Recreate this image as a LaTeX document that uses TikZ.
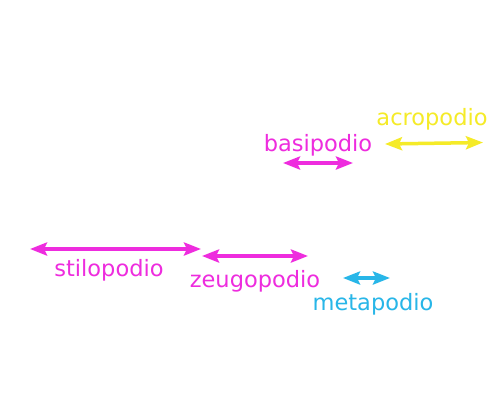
\documentclass[tikz,border=0pt]{standalone}
\usepackage{fontspec}
\setmainfont{DejaVu Sans}
\usetikzlibrary{arrows.meta}
\definecolor{mag}{RGB}{238,44,222}
\definecolor{yel}{RGB}{245,235,40}
\definecolor{cya}{RGB}{40,182,232}
\tikzset{
  dbl/.style={line width=3.5pt,{Stealth[length=17pt,width=13pt,inset=3pt]}-{Stealth[length=17pt,width=13pt,inset=3pt]}},
  lbl/.style={inner sep=0pt,font=\fontsize{22.5}{24}\selectfont}
}
\begin{document}
\begin{tikzpicture}[x=1pt,y=-1pt]
\useasboundingbox[fill=white] (0,0) rectangle (500,400);
% stilopodio
\coordinate (s1) at (30,249); \coordinate (s2) at (201,249);
\draw[dbl,mag] (s1) -- (s2);
\node[lbl,text=mag] (stilo) at (109,270) {stilopodio};
% zeugopodio
\coordinate (z1) at (202,256); \coordinate (z2) at (308,256);
\draw[dbl,mag] (z1) -- (z2);
\node[lbl,text=mag] (zeugo) at (255,281) {zeugopodio};
% basipodio
\coordinate (b1) at (283,163); \coordinate (b2) at (353,163);
\draw[dbl,mag] (b1) -- (b2);
\node[lbl,text=mag] (basi) at (318,145) {basipodio};
% acropodio
\coordinate (a1) at (385,144); \coordinate (a2) at (483,142.5);
\draw[dbl,yel] (a1) -- (a2);
\node[lbl,text=yel] (acro) at (432,119) {acropodio};
% metapodio
\coordinate (m1) at (343,278); \coordinate (m2) at (390,278);
\draw[dbl,cya] (m1) -- (m2);
\node[lbl,text=cya] (meta) at (373,304) {metapodio};
\end{tikzpicture}
\end{document}
